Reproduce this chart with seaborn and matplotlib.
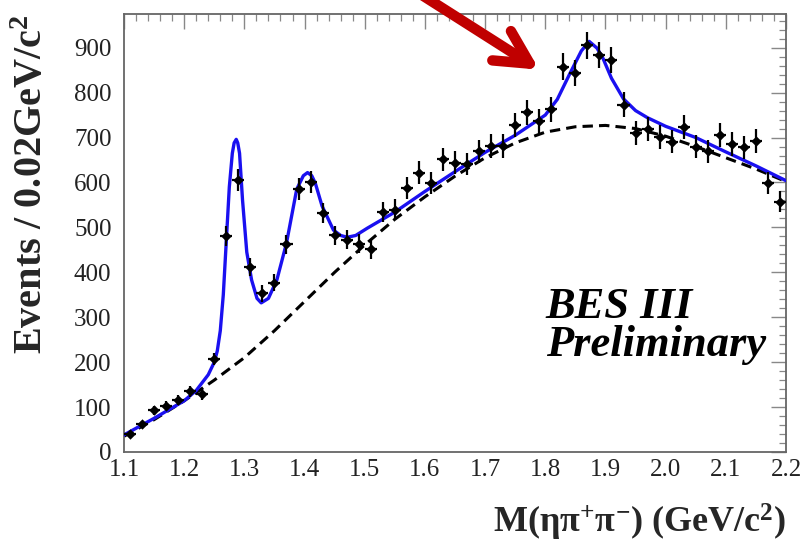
import numpy as np
import pandas as pd
import matplotlib
matplotlib.use("Agg")
import matplotlib.pyplot as plt
from matplotlib.ticker import MultipleLocator, FormatStrFormatter
import seaborn as sns

# ---- data ----
mass_bins = [1.11, 1.13, 1.15, 1.17, 1.19, 1.21, 1.23, 1.25, 1.27, 1.29, 1.31, 1.33,
             1.35, 1.37, 1.39, 1.41, 1.43, 1.45, 1.47, 1.49, 1.51, 1.53, 1.55, 1.57,
             1.59, 1.61, 1.63, 1.65, 1.67, 1.69, 1.71, 1.73, 1.75, 1.77, 1.79, 1.81,
             1.83, 1.85, 1.87, 1.89, 1.91, 1.93, 1.95, 1.97, 1.99, 2.01, 2.03, 2.05,
             2.07, 2.09, 2.11, 2.13, 2.15, 2.17, 2.19]
events = [40, 62, 93, 103, 116, 135, 128, 207, 481, 605, 411, 353,
          377, 462, 585, 600, 532, 482, 473, 464, 451, 534, 539, 587,
          622, 598, 652, 644, 641, 669, 681, 681, 728, 756, 736, 763,
          858, 843, 905, 884, 873, 773, 710, 719, 702, 691, 723, 680,
          669, 706, 686, 678, 693, 598, 557]

fit_x = [1.10, 1.15, 1.20, 1.22, 1.24, 1.25, 1.255, 1.26, 1.265, 1.27, 1.275, 1.28,
         1.283, 1.2865, 1.289, 1.292, 1.297, 1.304, 1.312, 1.321, 1.328, 1.34, 1.354,
         1.37, 1.387, 1.398, 1.405, 1.412, 1.418, 1.429, 1.448, 1.46, 1.471, 1.485,
         1.504, 1.55, 1.60, 1.65, 1.70, 1.75, 1.80, 1.82, 1.84, 1.86, 1.873, 1.886,
         1.896, 1.91, 1.93, 1.95, 1.97, 2.00, 2.05, 2.10, 2.15, 2.20]
fit_y = [38, 75, 114, 137, 172, 200, 225, 270, 350, 470, 590, 665,
         688, 696, 688, 665, 560, 445, 383, 342, 332, 342, 383,
         465, 585, 615, 622, 615, 598, 548, 494, 482, 478, 482,
         498, 534, 580, 624, 667, 705, 750, 785, 840, 893, 914, 899,
         876, 832, 786, 760, 744, 725, 700, 668, 637, 604]

bkg_x = [1.10, 1.15, 1.20, 1.25, 1.30, 1.35, 1.40, 1.45, 1.50, 1.55, 1.60, 1.65,
         1.70, 1.75, 1.80, 1.85, 1.90, 1.95, 2.00, 2.05, 2.10, 2.15, 2.20]
bkg_y = [35, 72, 114, 160, 210, 270, 335, 400, 461, 518, 568, 614,
         655, 688, 712, 724, 727, 720, 703, 680, 655, 630, 602]

x_ticks = [1.1, 1.2, 1.3, 1.4, 1.5, 1.6, 1.7, 1.8, 1.9, 2.0, 2.1, 2.2]
y_ticks = [0, 100, 200, 300, 400, 500, 600, 700, 800, 900]

points = pd.DataFrame({"mass": mass_bins, "events": events})
fit = pd.DataFrame({"mass": fit_x, "events": fit_y})
bkg = pd.DataFrame({"mass": bkg_x, "events": bkg_y})

# ---- style ----
sns.set_style("white")
plt.rcParams["font.family"] = ["Liberation Serif", "DejaVu Serif"]
plt.rcParams["mathtext.fontset"] = "custom"
plt.rcParams["mathtext.rm"] = "Liberation Serif"
plt.rcParams["mathtext.bf"] = "Liberation Serif:bold"
plt.rcParams["mathtext.it"] = "Liberation Serif:italic"

fig = plt.figure(figsize=(8.06, 5.49), dpi=100)
ax = fig.add_axes([124 / 806, 1 - 452 / 549, (786 - 124) / 806, (452 - 14) / 549])

# background (dashed) and total fit (blue)
sns.lineplot(data=bkg, x="mass", y="events", ax=ax, color="black",
             linestyle=(0, (3.4, 2.0)), lw=2.2, sort=True, zorder=2)
sns.lineplot(data=fit, x="mass", y="events", ax=ax, color="#1a10f0",
             lw=2.4, sort=True, zorder=3)

# data points with error bars
ax.errorbar(points["mass"], points["events"], yerr=np.sqrt(points["events"]),
            xerr=0.01, fmt="none", ecolor="black", elinewidth=1.6, capsize=0,
            zorder=4)
sns.scatterplot(data=points, x="mass", y="events", ax=ax, color="black",
                marker="D", s=28, edgecolor="black", linewidth=0, zorder=5)

# axes
ax.set_xlim(1.1, 2.2)
ax.set_ylim(0, 975)
ax.set_xticks(x_ticks)
ax.set_yticks(y_ticks)
ax.xaxis.set_major_formatter(FormatStrFormatter("%.1f"))
ax.xaxis.set_minor_locator(MultipleLocator(0.02))
ax.yaxis.set_minor_locator(MultipleLocator(20))
ax.tick_params(which="both", direction="in", top=True, right=True,
               color="#888888", labelsize=18, labelcolor="#222222")
ax.tick_params(which="major", length=11, width=1.0)
ax.tick_params(which="minor", length=5, width=0.9)
ax.tick_params(axis="x", pad=5)
ax.tick_params(axis="y", pad=9)
for sp in ax.spines.values():
    sp.set_color("#666666")
    sp.set_linewidth(1.3)

ax.set_xlabel(r"$\mathbf{M(\eta\pi^{+}\pi^{-})\ (GeV/c^{2})}$", fontsize=26,
              loc="right")
ax.xaxis.set_label_coords(1.0, -0.16)
ax.xaxis.label.set_va("center")
ax.set_ylabel(r"$\mathbf{Events\ /\ 0.02GeV/c^{2}}$", fontsize=29,
              loc="top")
ax.yaxis.set_label_coords(-0.1375, 1.0)
ax.yaxis.label.set_va("center")

# text
ax.text(1.8005, 298, "BES III", fontsize=32, fontweight="bold", style="italic",
        ha="left", va="baseline", color="black")
ax.text(1.8005, 214, "Preliminary", fontsize=32, fontweight="bold",
        style="italic", ha="left", va="baseline", color="black")

# red arrow
ax.annotate("", xy=(1.790, 851), xytext=(1.580, 1030), xycoords="data",
            textcoords="data", annotation_clip=False,
            arrowprops=dict(arrowstyle="->,head_length=2.4,head_width=1.25",
                            color="#c00000", lw=7.5, mutation_scale=10,
                            shrinkA=0, shrinkB=0, capstyle="round",
                            joinstyle="round"))

fig.savefig("out.png", dpi=100)
